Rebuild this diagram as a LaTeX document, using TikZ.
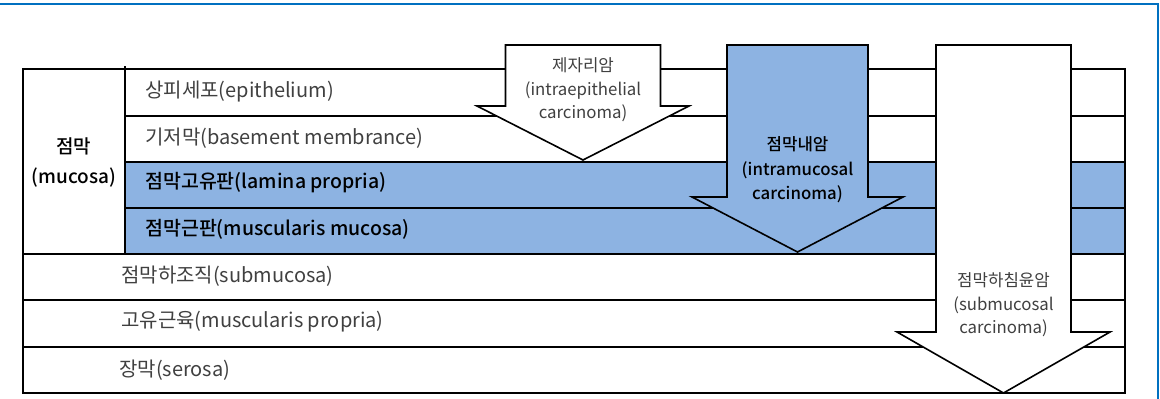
\documentclass[tikz,border=0pt]{standalone}
\usepackage{fontspec}
\setmainfont{Noto Sans CJK KR}[BoldFont={Noto Sans CJK KR Medium}]
\definecolor{layerblue}{RGB}{141,179,226}
\definecolor{frameblue}{RGB}{0,112,192}
\definecolor{txtgray}{RGB}{64,64,64}
\tikzset{
  layertxt/.style={anchor=west, inner sep=0pt, text=txtgray, font=\fontsize{20}{22}\selectfont},
  layerbold/.style={layertxt, text=black, font=\fontsize{19.5}{22}\selectfont\bfseries},
  catxt/.style={align=center, inner sep=0pt, text=txtgray, font=\fontsize{16.8}{23.5}\selectfont},
  cabold/.style={catxt, text=black, font=\fontsize{16.8}{24.5}\selectfont\bfseries}
}
\begin{document}
\begin{tikzpicture}[x=1pt,y=-1pt, line join=miter]
\useasboundingbox (0,0) rectangle (1160,399);
\def\xl{23} \def\xm{125} \def\xr{1125} % Cột
% khung
\draw[frameblue, line width=2] (0,4) -- (1158,4) -- (1158,399);
% lớp niêm mạc
\fill[layerblue] (\xm,162) rectangle (\xr,254);
\foreach \y in {116,162,208}{\draw[line width=1.3] (\xm,\y) -- (\xr,\y);}
\foreach \y in {254,300,347}{\draw[line width=1.3] (\xl,\y) -- (\xr,\y);}
\draw[line width=1.8] (\xl,69) rectangle (\xr,393);
\draw[line width=1.6] (\xm,66) -- (\xm,254);
\node[layertxt] (epi) at (145,92) {상피세포(epithelium)};
\node[layertxt] (basement) at (145,138) {기저막(basement membrance)};
\node[layerbold] (lamina) at (145,183) {점막고유판(lamina propria)};
\node[layerbold] (musmuc) at (145,229) {점막근판(muscularis mucosa)};
\node[layertxt] (submuc) at (121,276) {점막하조직(submucosa)};
\node[layertxt] (muspro) at (121,322) {고유근육(muscularis propria)};
\node[layertxt] (serosa) at (119,370) {장막(serosa)};
\node[layerbold, anchor=center, align=center, font=\fontsize{19}{30}\selectfont\bfseries] (mucosa) at (74,162) {점막\\(mucosa)};
% mũi tên
\foreach \cx/\sw/\hw/\sy/\ty/\col in {583/77.5/106/106/160/white, 797.5/70.5/105.5/197/252/layerblue, 1003.5/67.5/106.5/332/393/white}
  {\filldraw[fill=\col, line width=1.6] (\cx-\sw,45) -- (\cx+\sw,45) -- (\cx+\sw,\sy) -- (\cx+\hw,\sy) -- (\cx,\ty) -- (\cx-\hw,\sy) -- (\cx-\sw,\sy) -- cycle;}
\node[catxt] (intraep) at (583,90) {제자리암\\(intraepithelial\\carcinoma)};
\node[cabold] (intramuc) at (797.5,170) {점막내암\\(intramucosal\\carcinoma)};
\node[catxt] (submucca) at (1003.5,305) {점막하침윤암\\(submucosal\\carcinoma)};
\end{tikzpicture}
\end{document}
